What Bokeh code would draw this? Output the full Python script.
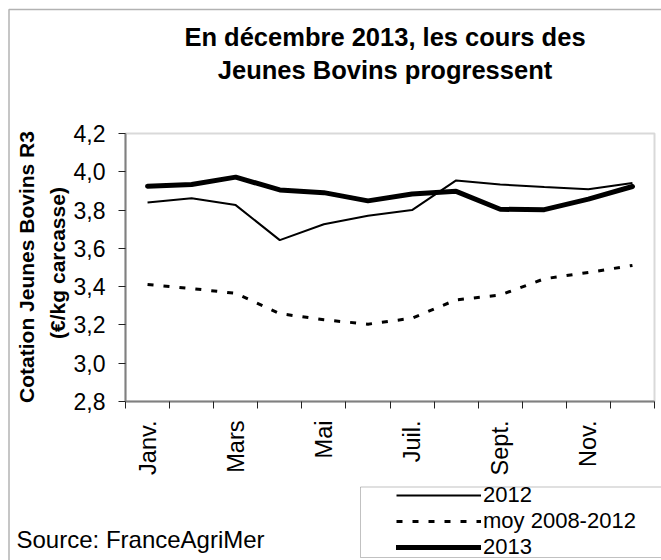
from math import pi
from bokeh.plotting import figure
from bokeh.models import (Range1d, FixedTicker, CustomJSTickFormatter, Label,
                          BoxAnnotation, Legend, LegendItem)
from bokeh.embed import file_html
from bokeh.resources import INLINE

# ---- data -------------------------------------------------------------
months = ["Janv.", "Févr.", "Mars", "Avr.", "Mai", "Juin",
          "Juil.", "Août", "Sept.", "Oct.", "Nov.", "Déc."]
shown_months = ["Janv.", "Mars", "Mai", "Juil.", "Sept.", "Nov."]
y2012 = [3.84, 3.862, 3.826, 3.643, 3.726, 3.77, 3.80, 3.955, 3.934, 3.92, 3.909, 3.942]
moy_2008_2012 = [3.411, 3.39, 3.365, 3.259, 3.227, 3.204, 3.235, 3.331, 3.356, 3.441, 3.474, 3.511]
y2013 = [3.925, 3.934, 3.972, 3.905, 3.891, 3.848, 3.884, 3.898, 3.804, 3.802, 3.857, 3.923]
y_ticks = [2.8, 3.0, 3.2, 3.4, 3.6, 3.8, 4.0, 4.2]
series_names = ["2012", "moy 2008-2012", "2013"]
title_lines = ["En décembre 2013, les cours des", "Jeunes Bovins progressent"]
ylabel_lines = ["Cotation Jeunes Bovins R3", "(€/kg carcasse)"]
source_text = "Source: FranceAgriMer"

# ---- layout (pixels) ----------------------------------------------------
FONT = "Liberation Sans"
W, H = 661, 560
PL, PR, PT, PB = 125, 654, 133, 401          # plot area in page pixels
n = len(months)
x0, x1 = 0, n
y0, y1 = y_ticks[0], y_ticks[-1]
kx = (PR - PL) / (x1 - x0)
ky = (PB - PT) / (y1 - y0)
x_range = Range1d(x0 - PL / kx, x1 + (W - PR) / kx)
y_range = Range1d(y0 - (H - PB) / ky, y1 + PT / ky)

def sx(px):      # page x -> frame screen x
    return px

def sy(py):      # page y -> frame screen y (from bottom)
    return H - py

xs = [i + 0.5 for i in range(n)]

p = figure(width=W, height=H, output_backend="svg", toolbar_location=None,
           x_range=x_range, y_range=y_range, min_border=0)
p.min_border_left = p.min_border_right = p.min_border_top = p.min_border_bottom = 0
p.background_fill_color = "white"
p.border_fill_color = "white"
p.outline_line_color = None
p.grid.visible = False

eps = 1e-4
# x axis: labels at month centres, tick marks at month boundaries
xax = p.xaxis[0]
xax.fixed_location = y0
xax.bounds = (x0 - eps, x1 + eps)
xax.ticker = FixedTicker(ticks=[months.index(m) + 0.5 for m in shown_months],
                         minor_ticks=list(range(n + 1)))
xax.major_label_overrides = {months.index(m) + 0.5: m for m in shown_months}
xax.major_tick_out = 0
xax.major_tick_in = 0
xax.minor_tick_out = 7
xax.minor_tick_in = 0
xax.minor_tick_line_color = "#222222"
xax.axis_line_color = "#808080"
xax.axis_line_width = 2
xax.major_label_orientation = pi / 2
xax.major_label_standoff = 12
xax.major_label_text_font = FONT
xax.major_label_text_font_size = "23.5px"
xax.major_label_text_color = "black"

yax = p.yaxis[0]
yax.fixed_location = x0
yax.bounds = (y0 - eps, y1 + eps)
yax.ticker = FixedTicker(ticks=y_ticks)
yax.formatter = CustomJSTickFormatter(code="return tick.toFixed(1).replace('.', ',');")
yax.major_tick_out = 7
yax.major_tick_in = 0
yax.minor_tick_line_color = None
yax.major_tick_line_color = "#222222"
yax.axis_line_color = "#808080"
yax.axis_line_width = 2
yax.major_label_standoff = 13
yax.major_label_text_font = FONT
yax.major_label_text_font_size = "23px"
yax.major_label_text_color = "black"

# plot area border (top / right)
p.add_layout(BoxAnnotation(left=x0, right=x1, bottom=y0, top=y1, fill_alpha=0,
                           line_color="#808080", line_width=2, level="underlay"))

r2012 = p.line(xs, y2012, line_color="black", line_width=2)
rmoy = p.line(xs, moy_2008_2012, line_color="black", line_width=3, line_dash="6 10")
r2013 = p.line(xs, y2013, line_color="black", line_width=5, line_cap="round")

# outer chart border
p.add_layout(BoxAnnotation(left=sx(8.5), right=sx(900), top=sy(9), bottom=sy(900),
                           left_units="screen", right_units="screen",
                           top_units="screen", bottom_units="screen",
                           fill_alpha=0, line_color="black", line_width=1.5))

# title
for txt, mid in zip(title_lines, [36.9, 69.5]):
    p.add_layout(Label(x=sx(384.5), y=sy(mid), x_units="screen", y_units="screen",
                       text=txt, text_font=FONT, text_font_size="25.5px",
                       text_font_style="bold", text_align="center",
                       text_baseline="middle", text_color="black"))

# y axis title (two rotated lines)
for txt, cx, cy in zip(ylabel_lines, [25.5, 56.5], [266.5, 262.5]):
    p.add_layout(Label(x=sx(cx), y=sy(cy), x_units="screen", y_units="screen",
                       text=txt, text_font=FONT, text_font_size="21px",
                       text_font_style="bold", text_align="center",
                       text_baseline="middle", angle=pi / 2, text_color="black"))

# source
p.add_layout(Label(x=sx(16), y=sy(538.5), x_units="screen", y_units="screen",
                   text=source_text, text_font=FONT, text_font_size="24px",
                   text_baseline="middle", text_color="black"))

# legend box
p.add_layout(BoxAnnotation(left=sx(360), right=sx(900), top=sy(486.5), bottom=sy(557),
                           left_units="screen", right_units="screen",
                           top_units="screen", bottom_units="screen",
                           fill_alpha=0, line_color="#333333", line_width=1))

legend = Legend(items=[LegendItem(label=series_names[0], renderers=[r2012]),
                       LegendItem(label=series_names[1], renderers=[rmoy]),
                       LegendItem(label=series_names[2], renderers=[r2013])],
                location=(sx(396), sy(560)), orientation="vertical",
                padding=0, margin=0, spacing=0,
                glyph_width=85, glyph_height=26, label_height=26,
                label_standoff=2, label_text_font=FONT,
                label_text_font_size="22px", label_text_color="black",
                border_line_color=None, background_fill_alpha=0)
p.add_layout(legend, "center")

open("out.html", "w").write(file_html(p, INLINE))
